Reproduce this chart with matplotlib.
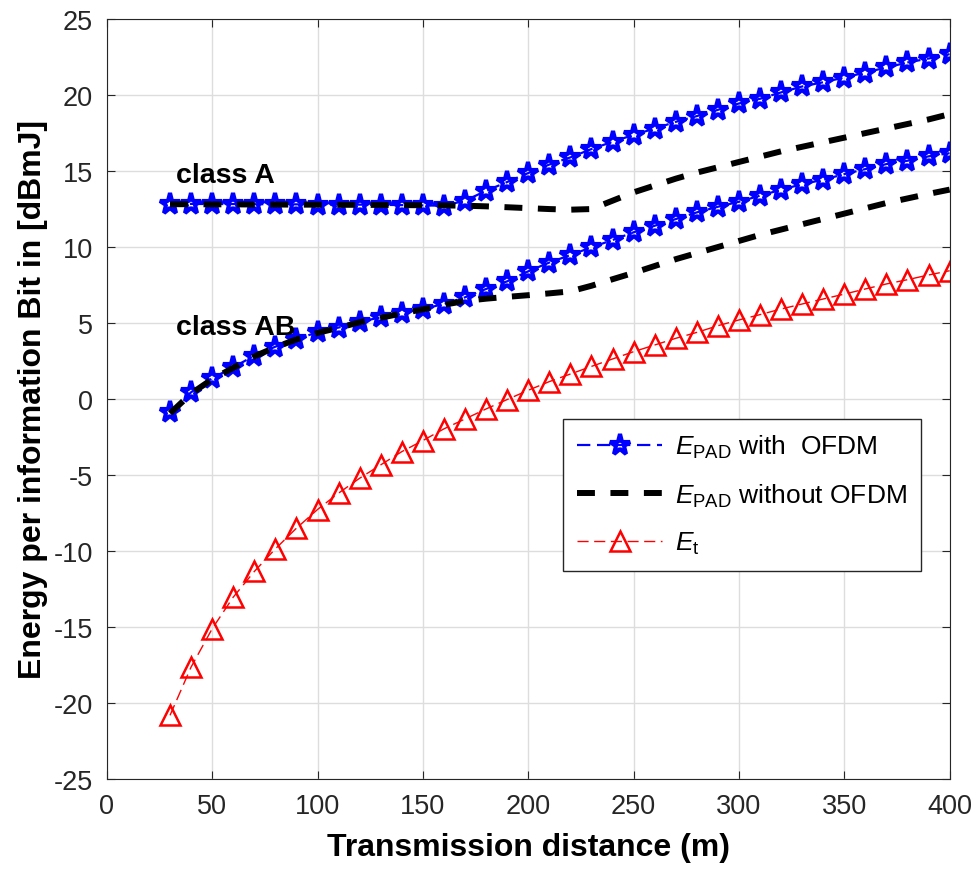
import numpy as np
import matplotlib.pyplot as plt

plt.rcParams['font.family'] = ['Liberation Sans', 'DejaVu Sans']
plt.rcParams['mathtext.fontset'] = 'custom'
plt.rcParams['mathtext.rm'] = 'Liberation Sans'
plt.rcParams['mathtext.it'] = 'Liberation Sans:italic'
plt.rcParams['axes.unicode_minus'] = False

dist = np.arange(30, 401, 10)

# class A, with OFDM
e_pad_a_ofdm = [12.85, 12.84, 12.83, 12.83, 12.82, 12.82, 12.81, 12.8, 12.8, 12.79,
                12.78, 12.76, 12.74, 12.72, 13.05, 13.7, 14.28, 14.87, 15.43, 15.9,
                16.45, 16.93, 17.38, 17.8, 18.24, 18.62, 19.03, 19.45, 19.76, 20.18,
                20.57, 20.85, 21.16, 21.49, 21.82, 22.15, 22.41, 22.7]
# class A, without OFDM
e_pad_a = [12.82, 12.82, 12.81, 12.81, 12.8, 12.8, 12.79, 12.79, 12.78, 12.78,
           12.77, 12.76, 12.75, 12.74, 12.72, 12.68, 12.62, 12.56, 12.5, 12.46,
           12.5, 13.05, 13.6, 14.05, 14.5, 14.9, 15.25, 15.6, 15.95, 16.3,
           16.6, 16.9, 17.2, 17.5, 17.8, 18.1, 18.4, 18.75]
# class AB, with OFDM
e_pad_ab_ofdm = [-0.88, 0.44, 1.36, 2.08, 2.85, 3.44, 3.95, 4.38, 4.7, 5.08,
                 5.37, 5.66, 5.92, 6.25, 6.69, 7.24, 7.74, 8.4, 8.98, 9.47,
                 9.98, 10.46, 10.97, 11.4, 11.84, 12.28, 12.65, 12.98, 13.38, 13.77,
                 14.14, 14.43, 14.8, 15.13, 15.46, 15.68, 15.97, 16.18]
# class AB, without OFDM
e_pad_ab = [-0.95, 0.35, 1.3, 2.05, 2.8, 3.4, 3.92, 4.35, 4.68, 5.05,
            5.34, 5.63, 5.9, 6.2, 6.45, 6.6, 6.72, 6.83, 6.95, 7.08,
            7.45, 7.88, 8.3, 8.75, 9.2, 9.6, 10.0, 10.4, 10.8, 11.15,
            11.5, 11.85, 12.2, 12.55, 12.9, 13.2, 13.5, 13.78]
# transmit energy
e_t = [-20.83, -17.65, -15.13, -13.05, -11.36, -9.87, -8.51, -7.28, -6.2, -5.22,
       -4.34, -3.47, -2.74, -1.97, -1.32, -0.66, -0.04, 0.57, 1.14, 1.64,
       2.14, 2.63, 3.11, 3.55, 3.99, 4.38, 4.82, 5.2, 5.55, 5.92,
       6.25, 6.58, 6.9, 7.24, 7.57, 7.85, 8.16, 8.44]

fig = plt.figure(figsize=(9.8, 8.78), dpi=100)
ax = fig.add_axes([0.109, 0.112, 0.86, 0.865])

star = dict(color='blue', ls='--', lw=1.6, marker='*', ms=15.5,
            mfc='none', mec='blue', mew=3, dashes=(6, 3))
ax.plot(dist, e_pad_a_ofdm, label=r'$E_{\mathrm{PAD}}$ with  OFDM', **star)
ax.plot(dist, e_pad_ab_ofdm, **star)
ax.plot(dist, e_pad_a, color='black', ls='--', lw=4.3, dashes=(3, 2.6),
        label=r'$E_{\mathrm{PAD}}$ without OFDM')
ax.plot(dist, e_pad_ab, color='black', ls='--', lw=4.3, dashes=(3, 2.6))
ax.plot(dist, e_t, color='red', ls='--', lw=1, dashes=(8, 4), marker='^', ms=15,
        mfc='none', mec='red', mew=1.8, label=r'$E_{\mathrm{t}}$')

ax.text(33, 14.3, 'class A', fontsize=20.5, fontweight='bold')
ax.text(33, 4.3, 'class AB', fontsize=20.5, fontweight='bold')

ax.set_xlim(0, 400)
ax.set_ylim(-25, 25)
ax.set_xticks(np.arange(0, 401, 50))
ax.set_yticks(np.arange(-25, 26, 5))
ax.grid(True, color='#dddddd', lw=1)
ax.set_axisbelow(True)
ax.tick_params(direction='in', labelsize=19.5, length=6, top=True, right=True,
               colors='#262626', pad=10)
for s in ax.spines.values():
    s.set_color('#262626')
ax.set_xlabel('Transmission distance (m)', fontsize=23, fontweight='bold', labelpad=10)
ax.set_ylabel('Energy per information Bit in [dBmJ]', fontsize=23, fontweight='bold',
              labelpad=4)

leg = ax.legend(loc='upper left', bbox_to_anchor=(0.541, 0.474), fontsize=19,
                fancybox=False, edgecolor='#262626', handlelength=3.2,
                borderpad=0.55, labelspacing=0.8, handletextpad=0.5,
                borderaxespad=0, framealpha=1)
leg.get_frame().set_linewidth(1)

fig.savefig('out.png', dpi=100)
